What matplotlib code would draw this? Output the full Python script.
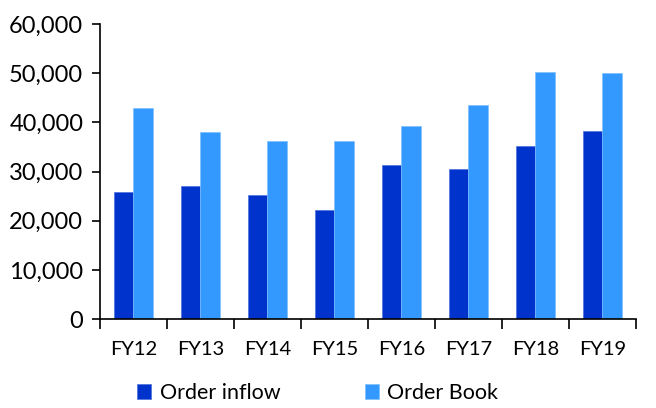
import matplotlib.pyplot as plt
import numpy as np
from matplotlib.ticker import FuncFormatter, FixedLocator

# data
years = ["FY12", "FY13", "FY14", "FY15", "FY16", "FY17", "FY18", "FY19"]
order_inflow = [25900, 27100, 25200, 22200, 31300, 30500, 35100, 38200]
order_book = [43000, 38100, 36200, 36200, 39250, 43500, 50300, 49950]

plt.rcParams['font.family'] = ['Lato', 'DejaVu Sans']

fig = plt.figure(figsize=(6.56, 4.08), dpi=100)
ax = fig.add_axes([0.1524, 0.2181, 0.8171, 0.7229])

x = np.arange(len(years))
w = 0.29
ax.bar(x - w / 2, order_inflow, w, color="#0033CC", edgecolor="#4D70DD", linewidth=0.5, label="Order inflow")
ax.bar(x + w / 2, order_book, w, color="#3399FF", edgecolor="#7FBFFF", linewidth=0.5, label="Order Book")

ax.set_xlim(-0.5, len(years) - 0.5)
ax.set_ylim(0, 60000)
ax.set_yticks(np.arange(0, 60001, 10000))
ax.yaxis.set_major_formatter(FuncFormatter(lambda v, p: f"{int(v):,}"))

ax.set_xticks(x)
ax.set_xticklabels(years)
ax.xaxis.set_minor_locator(FixedLocator(np.arange(-0.5, len(years), 1.0)))
ax.tick_params(axis="x", which="major", length=0, pad=16, labelsize=14.5)
ax.tick_params(axis="x", which="minor", length=7, width=1.2, direction="out")
ax.tick_params(axis="y", length=6, width=1.2, direction="out", labelsize=17, pad=6)

for s in ["top", "right"]:
    ax.spines[s].set_visible(False)
ax.spines["left"].set_linewidth(1.2)
ax.spines["bottom"].set_linewidth(1.2)

fig.legend(loc="lower left", bbox_to_anchor=(0.18, -0.035), ncol=2, frameon=False,
           fontsize=15.5, handlelength=0.65, handleheight=0.65, handletextpad=0.4,
           columnspacing=3.9)

fig.savefig("out.png", dpi=100)
